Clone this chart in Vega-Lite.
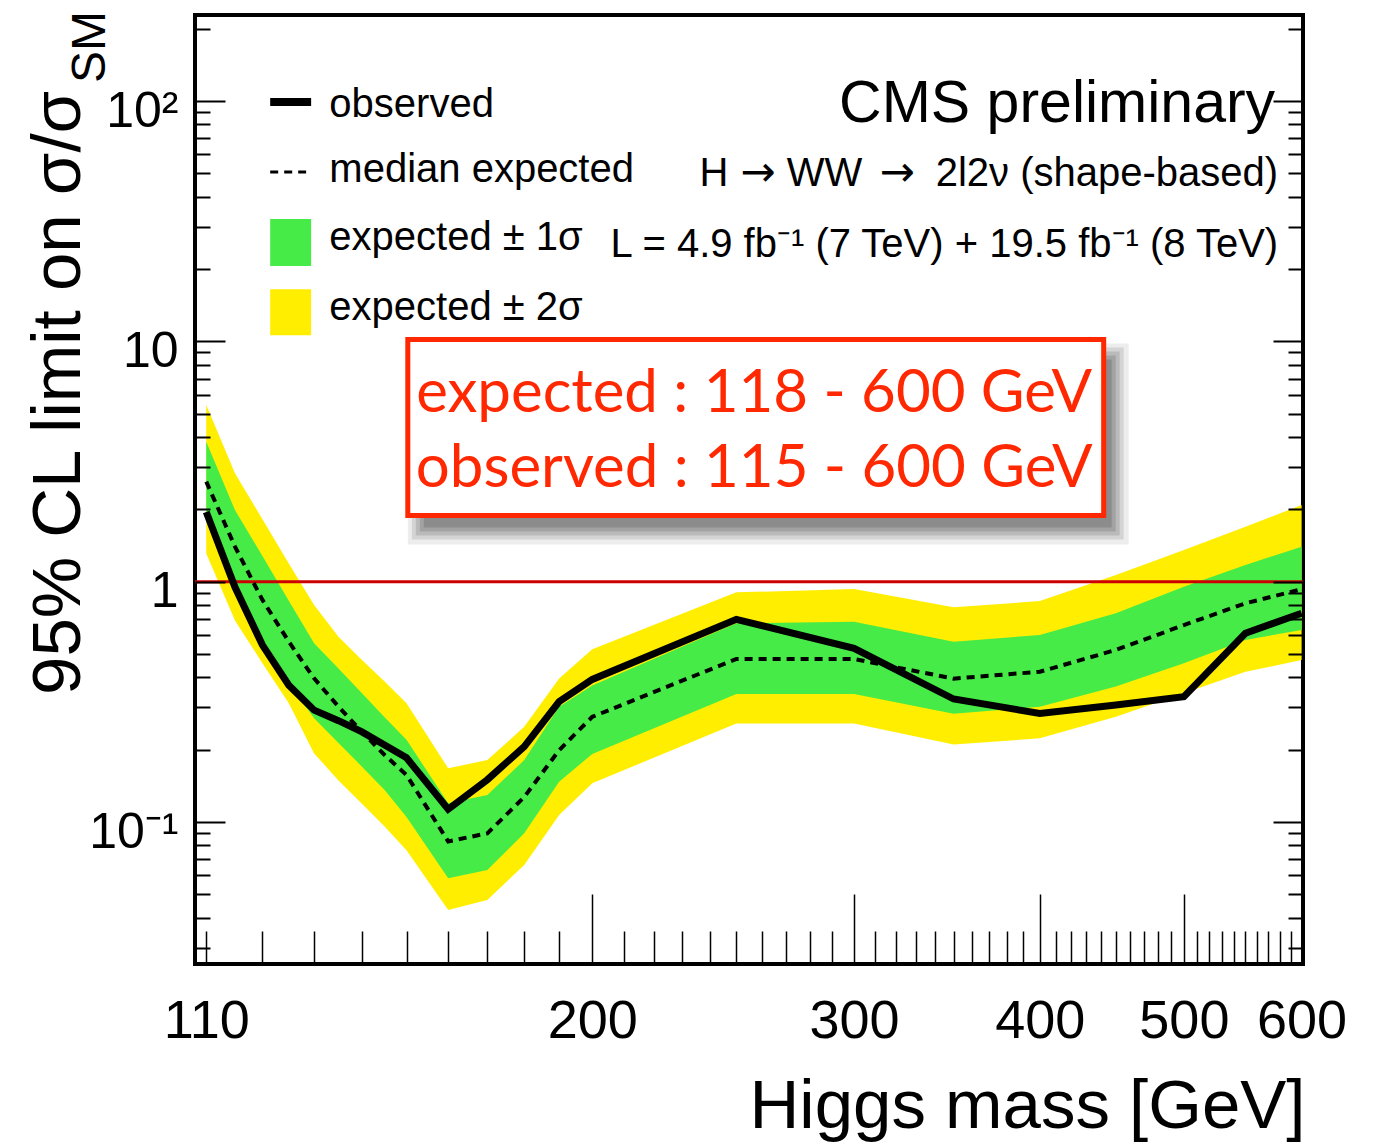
{
  "$schema": "https://vega.github.io/schema/vega-lite/v6.json",
  "width": 1108,
  "height": 949,
  "autosize": "none",
  "padding": {"left": 195, "top": 15, "right": 75, "bottom": 178},
  "background": "white",
  "config": {
    "view": {"stroke": "#000", "strokeWidth": 4},
    "font": "Liberation Sans",
    "axis": {"labelFont": "Liberation Sans", "titleFont": "Liberation Sans", "grid": false, "domain": false, "labelColor": "#000", "titleColor": "#000", "tickColor": "#000"},
    "text": {"font": "Liberation Sans", "color": "#000"}
  },
  "datasets": {
    "lim": [
      {"mass": 110, "obs": 1.95, "exp": 2.61, "lo1": 1.89, "hi1": 3.82, "lo2": 1.31, "hi2": 5.44},
      {"mass": 115, "obs": 0.95, "exp": 1.40, "lo1": 0.97, "hi1": 1.99, "lo2": 0.69, "hi2": 2.83},
      {"mass": 120, "obs": 0.545, "exp": 0.84, "lo1": 0.554, "hi1": 1.28, "lo2": 0.458, "hi2": 1.82},
      {"mass": 125, "obs": 0.371, "exp": 0.563, "lo1": 0.378, "hi1": 0.834, "lo2": 0.312, "hi2": 1.19},
      {"mass": 130, "obs": 0.292, "exp": 0.396, "lo1": 0.27, "hi1": 0.554, "lo2": 0.193, "hi2": 0.80},
      {"mass": 135, "obs": 0.264, "exp": 0.302, "lo1": 0.213, "hi1": 0.435, "lo2": 0.149, "hi2": 0.59},
      {"mass": 140, "obs": 0.237, "exp": 0.237, "lo1": 0.170, "hi1": 0.343, "lo2": 0.119, "hi2": 0.472},
      {"mass": 145, "obs": 0.209, "exp": 0.19, "lo1": 0.136, "hi1": 0.273, "lo2": 0.0958, "hi2": 0.384},
      {"mass": 150, "obs": 0.185, "exp": 0.157, "lo1": 0.105, "hi1": 0.22, "lo2": 0.0763, "hi2": 0.312},
      {"mass": 160, "obs": 0.113, "exp": 0.083, "lo1": 0.0583, "hi1": 0.1196, "lo2": 0.043, "hi2": 0.1673},
      {"mass": 170, "obs": 0.15, "exp": 0.0897, "lo1": 0.0631, "hi1": 0.1296, "lo2": 0.0474, "hi2": 0.181},
      {"mass": 180, "obs": 0.206, "exp": 0.127, "lo1": 0.0897, "hi1": 0.181, "lo2": 0.0663, "hi2": 0.249},
      {"mass": 190, "obs": 0.317, "exp": 0.199, "lo1": 0.147, "hi1": 0.302, "lo2": 0.107, "hi2": 0.396},
      {"mass": 200, "obs": 0.392, "exp": 0.274, "lo1": 0.192, "hi1": 0.37, "lo2": 0.145, "hi2": 0.523},
      {"mass": 250, "obs": 0.697, "exp": 0.477, "lo1": 0.341, "hi1": 0.671, "lo2": 0.257, "hi2": 0.903},
      {"mass": 300, "obs": 0.528, "exp": 0.477, "lo1": 0.341, "hi1": 0.682, "lo2": 0.257, "hi2": 0.932},
      {"mass": 350, "obs": 0.325, "exp": 0.395, "lo1": 0.282, "hi1": 0.563, "lo2": 0.21, "hi2": 0.782},
      {"mass": 400, "obs": 0.283, "exp": 0.422, "lo1": 0.302, "hi1": 0.60, "lo2": 0.223, "hi2": 0.831},
      {"mass": 450, "obs": 0.307, "exp": 0.52, "lo1": 0.366, "hi1": 0.739, "lo2": 0.274, "hi2": 1.066},
      {"mass": 500, "obs": 0.332, "exp": 0.66, "lo1": 0.458, "hi1": 0.953, "lo2": 0.343, "hi2": 1.355},
      {"mass": 550, "obs": 0.61, "exp": 0.813, "lo1": 0.572, "hi1": 1.173, "lo2": 0.422, "hi2": 1.694},
      {"mass": 600, "obs": 0.739, "exp": 0.93, "lo1": 0.63, "hi1": 1.399, "lo2": 0.472, "hi2": 2.085}
    ]
  },
  "layer": [
    {
      "data": {"name": "lim"},
      "mark": {"type": "area", "color": "#FFEE00", "opacity": 1, "clip": true},
      "encoding": {
        "x": {"field": "mass", "type": "quantitative", "scale": {"type": "log", "domain": [108.1, 601.3], "nice": false},
          "axis": {"orient": "bottom", "values": [110,120,130,140,150,160,170,180,190,210,220,230,240,250,260,270,280,290,310,320,330,340,350,360,370,380,390,410,420,430,440,450,460,470,480,490,510,520,530,540,550,560,570,580,590,600], "labels": false, "ticks": true, "tickSize": -33, "tickWidth": 1.5, "domain": false, "grid": false, "title": null, "zindex": 1}},
        "y": {"field": "lo2", "type": "quantitative", "scale": {"type": "log", "domain": [0.02565, 228.2], "nice": false},
          "axis": {"orient": "left", "values": [0.03,0.04,0.05,0.06,0.07,0.08,0.09,0.2,0.3,0.4,0.5,0.6,0.7,0.8,0.9,2,3,4,5,6,7,8,9,20,30,40,50,60,70,80,90,200], "labels": false, "ticks": true, "tickSize": -15, "tickWidth": 2, "domain": false, "grid": false, "title": null, "zindex": 1}},
        "y2": {"field": "hi2"}
      }
    },
    {
      "data": {"name": "lim"},
      "mark": {"type": "area", "color": "#47EB47", "opacity": 1, "clip": true},
      "encoding": {
        "x": {"field": "mass", "type": "quantitative", "scale": {"type": "log", "domain": [108.1, 601.3], "nice": false},
          "axis": {"orient": "bottom", "values": [200, 300, 400, 500], "labels": false, "ticks": true, "tickSize": -70, "tickWidth": 1.5, "domain": false, "grid": false, "title": null, "zindex": 1}},
        "y": {"field": "lo1", "type": "quantitative", "scale": {"type": "log", "domain": [0.02565, 228.2], "nice": false},
          "axis": {"orient": "left", "values": [0.1, 1, 10, 100], "labels": false, "ticks": true, "tickSize": -30, "tickWidth": 2, "domain": false, "grid": false, "title": null, "zindex": 1}},
        "y2": {"field": "hi1"}
      }
    },
    {
      "data": {"values": [{}]},
      "mark": {"type": "rule", "color": "#CC0000", "strokeWidth": 3},
      "encoding": {
        "y": {"datum": 1, "type": "quantitative", "scale": {"type": "log", "domain": [0.02565, 228.2], "nice": false},
          "axis": {"orient": "right", "values": [0.1, 1, 10, 100], "labels": false, "ticks": true, "tickSize": -30, "tickWidth": 2, "domain": false, "grid": false, "title": null, "zindex": 1}}
      }
    },
    {
      "data": {"name": "lim"},
      "mark": {"type": "line", "color": "#000", "strokeWidth": 4, "strokeDash": [8, 6], "strokeJoin": "miter", "clip": true},
      "encoding": {
        "x": {"field": "mass", "type": "quantitative", "scale": {"type": "log", "domain": [108.1, 601.3], "nice": false},
          "axis": {"orient": "bottom", "values": [110, 200, 300, 400, 500, 600], "format": "d", "ticks": false, "domain": false, "grid": false, "labelFontSize": 54, "labelPadding": 73, "labelBaseline": "alphabetic", "labelFlush": false, "labelOverlap": false, "labelBound": false,
            "title": "Higgs mass [GeV]", "titleFontSize": 69, "titleFontWeight": "normal", "titleAnchor": "end", "titleAlign": "right", "titleBaseline": "alphabetic", "titleX": 1110, "titleY": 163}},
        "y": {"field": "exp", "type": "quantitative", "scale": {"type": "log", "domain": [0.02565, 228.2], "nice": false},
          "axis": {"orient": "left", "values": [0.1, 1, 10, 100], "labelExpr": "datum.value >= 100 ? '10²' : datum.value >= 10 ? '10' : datum.value >= 1 ? '1' : '10⁻¹'", "ticks": false, "domain": false, "grid": false, "labelFontSize": 50, "labelPadding": 17, "labelBaseline": "alphabetic", "labelOffset": 25, "labelFlush": false, "labelOverlap": false, "labelBound": false, "title": null}}
      }
    },
    {
      "data": {"name": "lim"},
      "mark": {"type": "line", "color": "#000", "strokeWidth": 7, "strokeJoin": "miter", "clip": true},
      "encoding": {
        "x": {"field": "mass", "type": "quantitative", "scale": {"type": "log", "domain": [108.1, 601.3], "nice": false}, "axis": null},
        "y": {"field": "obs", "type": "quantitative", "scale": {"type": "log", "domain": [0.02565, 228.2], "nice": false},
          "axis": {"orient": "right", "values": [0.03,0.04,0.05,0.06,0.07,0.08,0.09,0.2,0.3,0.4,0.5,0.6,0.7,0.8,0.9,2,3,4,5,6,7,8,9,20,30,40,50,60,70,80,90,200], "labels": false, "ticks": true, "tickSize": -15, "tickWidth": 2, "domain": false, "grid": false, "title": null, "zindex": 1}}
      }
    },
    {
      "data": {"values": [{}]},
      "mark": {"type": "rect", "color": "#000", "opacity": 0.13, "xOffset": 16, "x2Offset": 8, "yOffset": 20, "y2Offset": 12},
      "encoding": {
        "x": {"datum": 150.3, "type": "quantitative", "scale": {"type": "log", "domain": [108.1, 601.3], "nice": false}, "axis": null},
        "x2": {"datum": 441.6},
        "y": {"datum": 10.18, "type": "quantitative", "scale": {"type": "log", "domain": [0.02565, 228.2], "nice": false}, "axis": null},
        "y2": {"datum": 1.886}
      }
    },
    {
      "data": {"values": [{}]},
      "mark": {"type": "rect", "color": "#000", "opacity": 0.13, "xOffset": 12, "x2Offset": 12, "yOffset": 16, "y2Offset": 16},
      "encoding": {
        "x": {"datum": 150.3, "type": "quantitative", "scale": {"type": "log", "domain": [108.1, 601.3], "nice": false}, "axis": null},
        "x2": {"datum": 441.6},
        "y": {"datum": 10.18, "type": "quantitative", "scale": {"type": "log", "domain": [0.02565, 228.2], "nice": false}, "axis": null},
        "y2": {"datum": 1.886}
      }
    },
    {
      "data": {"values": [{}]},
      "mark": {"type": "rect", "color": "#000", "opacity": 0.12, "xOffset": 8, "x2Offset": 16, "yOffset": 12, "y2Offset": 20},
      "encoding": {
        "x": {"datum": 150.3, "type": "quantitative", "scale": {"type": "log", "domain": [108.1, 601.3], "nice": false}, "axis": null},
        "x2": {"datum": 441.6},
        "y": {"datum": 10.18, "type": "quantitative", "scale": {"type": "log", "domain": [0.02565, 228.2], "nice": false}, "axis": null},
        "y2": {"datum": 1.886}
      }
    },
    {
      "data": {"values": [{}]},
      "mark": {"type": "rect", "color": "#000", "opacity": 0.1, "xOffset": 4, "x2Offset": 20, "yOffset": 8, "y2Offset": 24},
      "encoding": {
        "x": {"datum": 150.3, "type": "quantitative", "scale": {"type": "log", "domain": [108.1, 601.3], "nice": false}, "axis": null},
        "x2": {"datum": 441.6},
        "y": {"datum": 10.18, "type": "quantitative", "scale": {"type": "log", "domain": [0.02565, 228.2], "nice": false}, "axis": null},
        "y2": {"datum": 1.886}
      }
    },
    {
      "data": {"values": [{}]},
      "mark": {"type": "rect", "color": "#000", "opacity": 0.07, "xOffset": 0, "x2Offset": 25, "yOffset": 4, "y2Offset": 29},
      "encoding": {
        "x": {"datum": 150.3, "type": "quantitative", "scale": {"type": "log", "domain": [108.1, 601.3], "nice": false}, "axis": null},
        "x2": {"datum": 441.6},
        "y": {"datum": 10.18, "type": "quantitative", "scale": {"type": "log", "domain": [0.02565, 228.2], "nice": false}, "axis": null},
        "y2": {"datum": 1.886}
      }
    },
    {
      "data": {"values": [{}]},
      "mark": {"type": "rect", "fill": "#FFFFFF", "stroke": "#FF2800", "strokeWidth": 5},
      "encoding": {
        "x": {"datum": 150.3, "type": "quantitative", "scale": {"type": "log", "domain": [108.1, 601.3], "nice": false}, "axis": null},
        "x2": {"datum": 441.6},
        "y": {"datum": 10.18, "type": "quantitative", "scale": {"type": "log", "domain": [0.02565, 228.2], "nice": false}, "axis": null},
        "y2": {"datum": 1.886}
      }
    },
    {
      "data": {"values": [{}]},
      "mark": {"type": "text", "text": "expected : 118 - 600 GeV", "font": "Lato", "fontSize": 60, "color": "#FF2800", "align": "center", "baseline": "alphabetic"},
      "encoding": {
        "x": {"datum": 257.0, "type": "quantitative", "scale": {"type": "log", "domain": [108.1, 601.3], "nice": false}, "axis": null},
        "y": {"datum": 5.084, "type": "quantitative", "scale": {"type": "log", "domain": [0.02565, 228.2], "nice": false}, "axis": null}
      }
    },
    {
      "data": {"values": [{}]},
      "mark": {"type": "text", "text": "observed : 115 - 600 GeV", "font": "Lato", "fontSize": 60, "color": "#FF2800", "align": "center", "baseline": "alphabetic"},
      "encoding": {
        "x": {"datum": 257.0, "type": "quantitative", "scale": {"type": "log", "domain": [108.1, 601.3], "nice": false}, "axis": null},
        "y": {"datum": 2.478, "type": "quantitative", "scale": {"type": "log", "domain": [0.02565, 228.2], "nice": false}, "axis": null}
      }
    },
    {
      "data": {"values": [{}]},
      "mark": {"type": "text", "text": "95% CL limit on σ/σ", "fontSize": 69, "angle": 270, "align": "left", "baseline": "alphabetic"},
      "encoding": {
        "x": {"datum": 90.5, "type": "quantitative", "scale": {"type": "log", "domain": [108.1, 601.3], "nice": false}, "axis": null},
        "y": {"datum": 0.3377, "type": "quantitative", "scale": {"type": "log", "domain": [0.02565, 228.2], "nice": false}, "axis": null}
      }
    },
    {
      "data": {"values": [{}]},
      "mark": {"type": "text", "text": "SM", "fontSize": 48, "angle": 270, "align": "left", "baseline": "alphabetic"},
      "encoding": {
        "x": {"datum": 94.1, "type": "quantitative", "scale": {"type": "log", "domain": [108.1, 601.3], "nice": false}, "axis": null},
        "y": {"datum": 119.0, "type": "quantitative", "scale": {"type": "log", "domain": [0.02565, 228.2], "nice": false}, "axis": null}
      }
    },
    {
      "data": {"values": [{}]},
      "mark": {"type": "text", "text": "CMS preliminary", "fontSize": 59, "align": "right", "baseline": "alphabetic"},
      "encoding": {
        "x": {"datum": 575.9, "type": "quantitative", "scale": {"type": "log", "domain": [108.1, 601.3], "nice": false}, "axis": null},
        "y": {"datum": 81.85, "type": "quantitative", "scale": {"type": "log", "domain": [0.02565, 228.2], "nice": false}, "axis": null}
      }
    },
    {
      "data": {"values": [{}]},
      "mark": {"type": "text", "text": "H", "fontSize": 40, "align": "right", "baseline": "alphabetic"},
      "encoding": {
        "x": {"datum": 246.9, "type": "quantitative", "scale": {"type": "log", "domain": [108.1, 601.3], "nice": false}, "axis": null},
        "y": {"datum": 44.33, "type": "quantitative", "scale": {"type": "log", "domain": [0.02565, 228.2], "nice": false}, "axis": null}
      }
    },
    {
      "data": {"values": [{}]},
      "mark": {"type": "text", "text": "→", "font": "DejaVu Sans", "fontSize": 42, "align": "center", "baseline": "alphabetic"},
      "encoding": {
        "x": {"datum": 258.6, "type": "quantitative", "scale": {"type": "log", "domain": [108.1, 601.3], "nice": false}, "axis": null},
        "y": {"datum": 44.33, "type": "quantitative", "scale": {"type": "log", "domain": [0.02565, 228.2], "nice": false}, "axis": null}
      }
    },
    {
      "data": {"values": [{}]},
      "mark": {"type": "text", "text": "WW", "fontSize": 40, "align": "right", "baseline": "alphabetic"},
      "encoding": {
        "x": {"datum": 303.8, "type": "quantitative", "scale": {"type": "log", "domain": [108.1, 601.3], "nice": false}, "axis": null},
        "y": {"datum": 44.33, "type": "quantitative", "scale": {"type": "log", "domain": [0.02565, 228.2], "nice": false}, "axis": null}
      }
    },
    {
      "data": {"values": [{}]},
      "mark": {"type": "text", "text": "→", "font": "DejaVu Sans", "fontSize": 42, "align": "center", "baseline": "alphabetic"},
      "encoding": {
        "x": {"datum": 320.8, "type": "quantitative", "scale": {"type": "log", "domain": [108.1, 601.3], "nice": false}, "axis": null},
        "y": {"datum": 44.33, "type": "quantitative", "scale": {"type": "log", "domain": [0.02565, 228.2], "nice": false}, "axis": null}
      }
    },
    {
      "data": {"values": [{}]},
      "mark": {"type": "text", "text": "2l2ν (shape-based)", "fontSize": 40, "align": "right", "baseline": "alphabetic"},
      "encoding": {
        "x": {"datum": 578.6, "type": "quantitative", "scale": {"type": "log", "domain": [108.1, 601.3], "nice": false}, "axis": null},
        "y": {"datum": 44.33, "type": "quantitative", "scale": {"type": "log", "domain": [0.02565, 228.2], "nice": false}, "axis": null}
      }
    },
    {
      "data": {"values": [{}]},
      "mark": {"type": "text", "text": "L = 4.9 fb⁻¹ (7 TeV) + 19.5 fb⁻¹ (8 TeV)", "fontSize": 40, "align": "right", "baseline": "alphabetic"},
      "encoding": {
        "x": {"datum": 578.6, "type": "quantitative", "scale": {"type": "log", "domain": [108.1, 601.3], "nice": false}, "axis": null},
        "y": {"datum": 22.45, "type": "quantitative", "scale": {"type": "log", "domain": [0.02565, 228.2], "nice": false}, "axis": null}
      }
    },
    {
      "data": {"values": [{}]},
      "mark": {"type": "rule", "color": "#000", "strokeWidth": 8, "strokeCap": "butt"},
      "encoding": {
        "x": {"datum": 121.45, "type": "quantitative", "scale": {"type": "log", "domain": [108.1, 601.3], "nice": false}, "axis": null},
        "x2": {"datum": 129.4},
        "y": {"datum": 99.2, "type": "quantitative", "scale": {"type": "log", "domain": [0.02565, 228.2], "nice": false}, "axis": null}
      }
    },
    {
      "data": {"values": [{}]},
      "mark": {"type": "rule", "color": "#000", "strokeWidth": 3, "strokeDash": [8, 6], "strokeCap": "butt"},
      "encoding": {
        "x": {"datum": 121.45, "type": "quantitative", "scale": {"type": "log", "domain": [108.1, 601.3], "nice": false}, "axis": null},
        "x2": {"datum": 128.4},
        "y": {"datum": 50.7, "type": "quantitative", "scale": {"type": "log", "domain": [0.02565, 228.2], "nice": false}, "axis": null}
      }
    },
    {
      "data": {"values": [{}]},
      "mark": {"type": "rect", "color": "#47EB47"},
      "encoding": {
        "x": {"datum": 121.45, "type": "quantitative", "scale": {"type": "log", "domain": [108.1, 601.3], "nice": false}, "axis": null},
        "x2": {"datum": 129.4},
        "y": {"datum": 32.28, "type": "quantitative", "scale": {"type": "log", "domain": [0.02565, 228.2], "nice": false}, "axis": null},
        "y2": {"datum": 20.6}
      }
    },
    {
      "data": {"values": [{}]},
      "mark": {"type": "rect", "color": "#FFEE00"},
      "encoding": {
        "x": {"datum": 121.45, "type": "quantitative", "scale": {"type": "log", "domain": [108.1, 601.3], "nice": false}, "axis": null},
        "x2": {"datum": 129.4},
        "y": {"datum": 16.5, "type": "quantitative", "scale": {"type": "log", "domain": [0.02565, 228.2], "nice": false}, "axis": null},
        "y2": {"datum": 10.6}
      }
    },
    {
      "data": {"values": [{}]},
      "mark": {"type": "text", "text": "observed", "fontSize": 40, "align": "left", "baseline": "alphabetic"},
      "encoding": {
        "x": {"datum": 133.1, "type": "quantitative", "scale": {"type": "log", "domain": [108.1, 601.3], "nice": false}, "axis": null},
        "y": {"datum": 85.9, "type": "quantitative", "scale": {"type": "log", "domain": [0.02565, 228.2], "nice": false}, "axis": null}
      }
    },
    {
      "data": {"values": [{}]},
      "mark": {"type": "text", "text": "median expected", "fontSize": 40, "align": "left", "baseline": "alphabetic"},
      "encoding": {
        "x": {"datum": 133.1, "type": "quantitative", "scale": {"type": "log", "domain": [108.1, 601.3], "nice": false}, "axis": null},
        "y": {"datum": 46.1, "type": "quantitative", "scale": {"type": "log", "domain": [0.02565, 228.2], "nice": false}, "axis": null}
      }
    },
    {
      "data": {"values": [{}]},
      "mark": {"type": "text", "text": "expected ± 1σ", "fontSize": 40, "align": "left", "baseline": "alphabetic"},
      "encoding": {
        "x": {"datum": 133.1, "type": "quantitative", "scale": {"type": "log", "domain": [108.1, 601.3], "nice": false}, "axis": null},
        "y": {"datum": 24.0, "type": "quantitative", "scale": {"type": "log", "domain": [0.02565, 228.2], "nice": false}, "axis": null}
      }
    },
    {
      "data": {"values": [{}]},
      "mark": {"type": "text", "text": "expected ± 2σ", "fontSize": 40, "align": "left", "baseline": "alphabetic"},
      "encoding": {
        "x": {"datum": 133.1, "type": "quantitative", "scale": {"type": "log", "domain": [108.1, 601.3], "nice": false}, "axis": null},
        "y": {"datum": 12.27, "type": "quantitative", "scale": {"type": "log", "domain": [0.02565, 228.2], "nice": false}, "axis": null}
      }
    }
  ],
  "resolve": {"axis": {"x": "independent", "y": "independent"}}
}
